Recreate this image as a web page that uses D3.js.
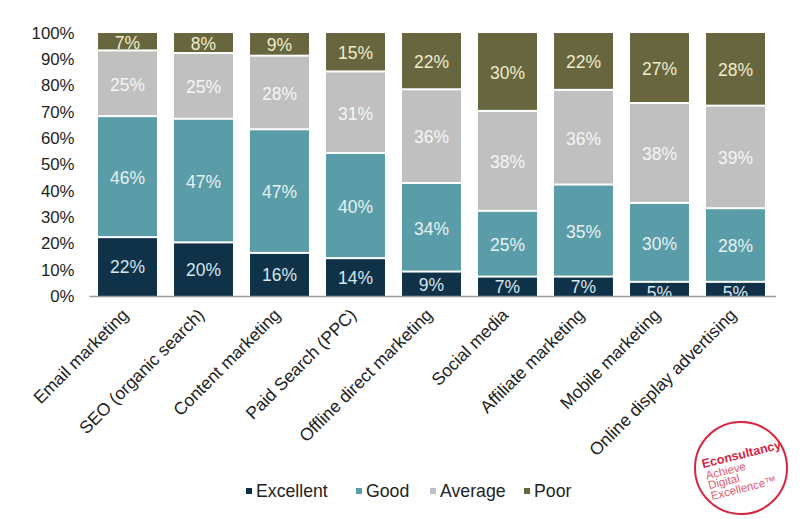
<!DOCTYPE html>
<html>
<head>
<meta charset="utf-8">
<script src="https://cdn.jsdelivr.net/npm/d3@7/dist/d3.min.js"></script>
<style>
  html, body { margin: 0; padding: 0; background: #fff; }
  svg { display: block; font-family: "Liberation Sans", Arial, sans-serif; }
</style>
</head>
<body>
<svg id="chart" width="800" height="519"></svg>
<script>
const categories = ["Email marketing", "SEO (organic search)", "Content marketing", "Paid Search (PPC)",
  "Offline direct marketing", "Social media", "Affiliate marketing", "Mobile marketing", "Online display advertising"];
const seriesNames = ["Excellent", "Good", "Average", "Poor"];
const excellent = [22, 20, 16, 14, 9, 7, 7, 5, 5];
const good      = [46, 47, 47, 40, 34, 25, 35, 30, 28];
const average   = [25, 25, 28, 31, 36, 38, 36, 38, 39];
const poor      = [7, 8, 9, 15, 22, 30, 22, 27, 28];
const yTicks = [0, 0.1, 0.2, 0.3, 0.4, 0.5, 0.6, 0.7, 0.8, 0.9, 1];

const colors = ["#0f3248", "#5a9ca8", "#c0c0c0", "#68663f"];
const labelColors = ["#d6e6ee", "#e6f2f2", "#f6f6f6", "#eeeccc"];

const rows = categories.map((c, i) => ({
  cat: c, Excellent: excellent[i], Good: good[i], Average: average[i], Poor: poor[i]
}));

const svg = d3.select("#chart");
const plotTop = 33, plotBottom = 296;
const x = d3.scaleBand().domain(categories).range([89.5, 773.5]).paddingInner(0.224).paddingOuter(0.112);
const y = d3.scaleLinear().domain([0, 1]).range([plotBottom, plotTop]);

const stack = d3.stack().keys(seriesNames).offset(d3.stackOffsetExpand);
const stacked = stack(rows);

svg.append("defs").append("clipPath").attr("id", "plotclip")
  .append("rect").attr("x", 80).attr("y", 20).attr("width", 710).attr("height", plotBottom - 20);

const gap = 2;
const layers = svg.append("g").selectAll("g").data(stacked).join("g")
  .attr("fill", (d, i) => colors[i]);

layers.selectAll("rect").data((d, i) => d.map(p => ({ p, i, key: d.key })))
  .join("rect")
  .attr("x", d => x(d.p.data.cat))
  .attr("width", x.bandwidth())
  .attr("y", d => y(d.p[1]))
  .attr("height", d => Math.max(0, y(d.p[0]) - y(d.p[1]) - (d.i > 0 ? gap : 0)));

const labels = svg.append("g").attr("clip-path", "url(#plotclip)");
stacked.forEach((layer, i) => {
  labels.selectAll(null).data(layer).join("text")
    .attr("x", d => x(d.data.cat) + x.bandwidth() / 2)
    .attr("y", d => (y(d[0]) + y(d[1])) / 2 + (i === 0 && d.data[layer.key] <= 5 ? 3 : 0))
    .attr("dy", "0.36em")
    .attr("text-anchor", "middle")
    .attr("font-size", 17.5)
    .attr("fill", labelColors[i])
    .text(d => d.data[layer.key] + "%");
});

// Y axis (labels only)
const yAxis = d3.axisLeft(y).tickValues(yTicks).tickFormat(d3.format(".0%")).tickSize(0).tickPadding(0);
const yg = svg.append("g").attr("transform", "translate(74.5,0)").call(yAxis);
yg.select(".domain").remove();
yg.selectAll("text").attr("font-size", 16.8).attr("fill", "#222").attr("font-family", "Liberation Sans, Arial, sans-serif");

// X axis baseline
svg.append("line").attr("x1", 89.5).attr("x2", 776).attr("y1", plotBottom + 0.5).attr("y2", plotBottom + 0.5)
  .attr("stroke", "#9a9a9a").attr("stroke-width", 1.5);

// X labels rotated
const xAxis = d3.axisBottom(x).tickSize(0).tickPadding(0);
const xg = svg.append("g").attr("transform", `translate(0,${plotBottom})`).call(xAxis);
xg.select(".domain").remove();
xg.selectAll("text")
  .attr("font-size", 17.5)
  .attr("fill", "#222")
  .attr("font-family", "Liberation Sans, Arial, sans-serif")
  .attr("text-anchor", "end")
  .attr("dy", null)
  .attr("y", 0)
  .attr("transform", "translate(2,20) rotate(-45)");

// Legend
const legendPos = [246, 356, 430, 524];
const legend = svg.append("g").attr("transform", "translate(0,491)");
seriesNames.forEach((s, i) => {
  const g = legend.append("g").attr("transform", `translate(${legendPos[i]},0)`);
  g.append("rect").attr("x", 0).attr("y", -3).attr("width", 6).attr("height", 6).attr("fill", colors[i]);
  g.append("text").attr("x", 10).attr("y", 0).attr("dy", "0.36em")
    .attr("font-size", 17.7).attr("fill", "#222").text(s);
});

// Econsultancy logo
const logo = svg.append("g").attr("transform", "translate(741,468)");
logo.append("circle").attr("r", 46).attr("fill", "#fff").attr("stroke", "#d8243f").attr("stroke-width", 2);
const lt = logo.append("g").attr("transform", "rotate(-14)");
lt.append("text").attr("x", -37).attr("y", -9).attr("font-size", 12.5).attr("font-weight", "bold")
  .attr("fill", "#d8243f").text("Econsultancy");
[["Achieve", 3], ["Digital", 13], ["Excellence\u2122", 24]].forEach(([t, dy]) => {
  lt.append("text").attr("x", -36).attr("y", dy).attr("font-size", 11.5).attr("fill", "#e05a6e").text(t);
});
</script>
</body>
</html>
